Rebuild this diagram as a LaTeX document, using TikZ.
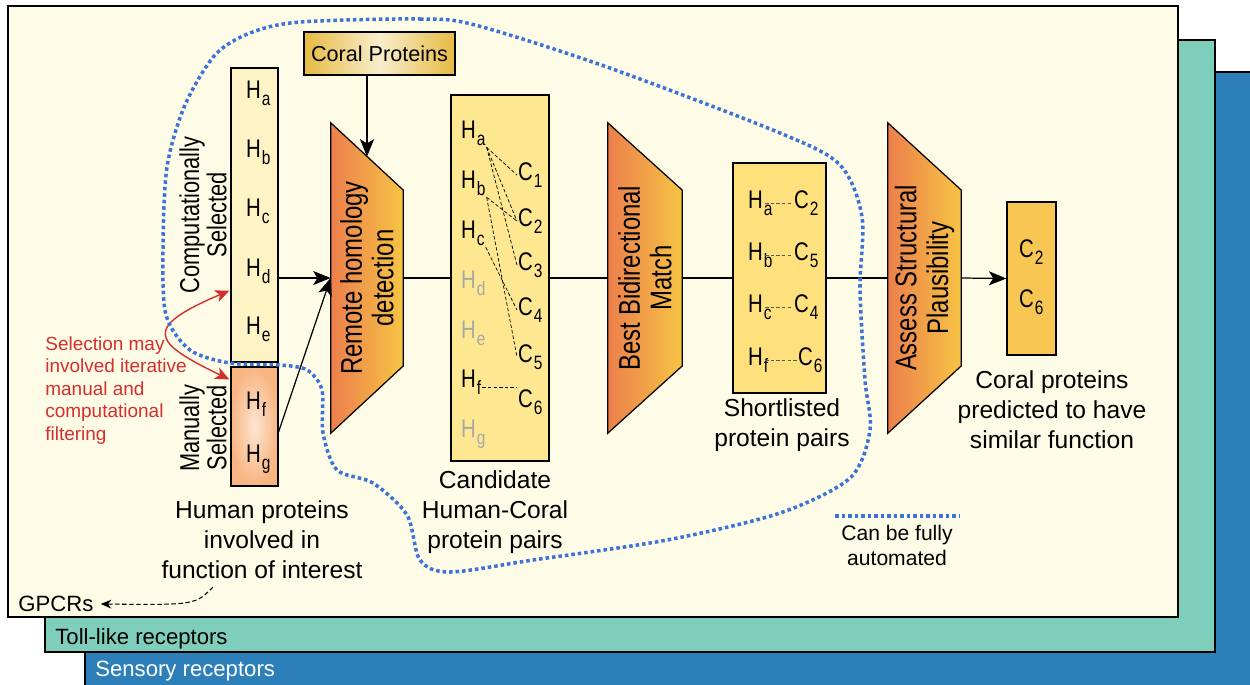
\documentclass[tikz,border=0pt]{standalone}
\usepackage{fontspec}
\setmainfont{Liberation Sans}
\newfontfamily\narrowfont{Liberation Sans}[FakeStretch=0.8]
\usetikzlibrary{arrows.meta,calc}

\definecolor{panelbg}{HTML}{FEFBE6}
\definecolor{tollbg}{HTML}{7FCDBB}
\definecolor{sensbg}{HTML}{2C7FB8}
\definecolor{compbg}{HTML}{FEF3C4}
\definecolor{manin}{HTML}{FDE6D2}
\definecolor{manout}{HTML}{F8B583}
\definecolor{candbg}{HTML}{FEE791}
\definecolor{shortbg}{HTML}{FEE07C}
\definecolor{finbg}{HTML}{F7C653}
\definecolor{trapl}{HTML}{EC7F4C}
\definecolor{trapr}{HTML}{F7C444}
\definecolor{coralside}{HTML}{E6BA42}
\definecolor{coralmid}{HTML}{F8EDCC}
\definecolor{selred}{HTML}{D2302F}
\definecolor{autoblue}{HTML}{3B73D9}
\definecolor{fadegray}{HTML}{A8A8A8}

\newcommand{\hsub}[1]{H\kern0.5pt\raisebox{-4.5pt}{\fontsize{11}{11}\selectfont #1}}
\newcommand{\hsubr}[1]{H\kern0.5pt\rlap{\raisebox{-4.5pt}{\fontsize{11}{11}\selectfont #1}}}
\newcommand{\csub}[1]{C\kern0.5pt\raisebox{-4.5pt}{\fontsize{11}{11}\selectfont #1}}
\newcommand{\trapshape}[1]{%
  \path[draw, line width=0.7pt, left color=trapl, right color=trapr]
    (#1.north west) -- ([yshift=-1.35cm]#1.north east)
    -- ([yshift=1.35cm]#1.south east) -- (#1.south west) -- cycle;}

\begin{document}
\begin{tikzpicture}[x=0.02cm, y=-0.02cm,
  box/.style={draw, line width=0.7pt, inner sep=0pt},
  hlab/.style={inner sep=0.5pt, anchor=base west, font=\narrowfont\fontsize{14.5}{16}\selectfont},
  fadelab/.style={hlab, text=fadegray},
  caption/.style={align=center, font=\fontsize{14}{17}\selectfont},
  rotlab/.style={rotate=90, align=center, font=\narrowfont\fontsize{15.5}{14}\selectfont},
  traptext/.style={rotate=90, align=center, font=\narrowfont\fontsize{17}{18}\selectfont},
  trapnode/.style={inner sep=0pt, minimum height=6.2cm},
  flow/.style={line width=0.7pt},
  arr/.style={flow, -{Stealth[length=10pt,width=8pt,inset=2.5pt]}},
  pairline/.style={line width=0.4pt, dash pattern=on 2pt off 1.2pt},
  fullauto/.style={autoblue, line width=2pt, dash pattern=on 2pt off 1.7pt},
  panellab/.style={anchor=west, inner sep=0pt, font=\fontsize{12.6}{14}\selectfont}]

\useasboundingbox (0,0) rectangle (1250,684);

% stacked receptor panels
\draw[fill=sensbg, line width=0.6pt] (85,72) rectangle (1262,700);
\draw[fill=tollbg, line width=0.6pt] (45,40) rectangle (1215,652);
\draw[fill=panelbg, line width=0.8pt] (8,6) rectangle (1178,617);
\node[panellab, text=white] (sens) at (95,671) {Sensory receptors};
\node[panellab] (toll) at (55,639) {Toll-like receptors};
\node[panellab] (gpcr) at (18,604) {GPCRs};

% human proteins
\node[box, fill=compbg, minimum width=0.94cm, minimum height=5.88cm] (comp) at (254.5,215) {};
\node[box, inner color=manin, outer color=manout, minimum width=0.94cm, minimum height=2.38cm] (man) at (254.5,426.5) {};
\foreach \s/\y in {a/98,b/157,c/216,d/276,e/334,f/409,g/462}
  \node[hlab] (h\s) at (245,\y) {\hsub{\s}};
\node[rotlab] (compsel) at (203,215) {Computationally\\Selected};
\node[rotlab] (mansel) at (203,428) {Manually\\Selected};
\node[caption] (human) at (262,540) {Human proteins\\involved in\\function of interest};

% selection note
\node[anchor=west, align=left, inner sep=0pt, text=selred, font=\fontsize{10.8}{12.8}\selectfont] (selnote) at (45,390.5) {Selection may\\involved iterative\\manual and\\computational\\filtering};
\coordinate (selc) at ($(comp.south west)+(-1,-72)$);
\coordinate (selm) at ($(man.north west)+(-1,13)$);
\draw[selred, line width=0.8pt, {Stealth[length=8pt,width=7pt,inset=2pt]}-{Stealth[length=8pt,width=7pt,inset=2pt]}] (selc) .. controls (142,328) and (152,342) .. (selm);

% coral proteins
\node[box, left color=coralside, right color=coralside, middle color=coralmid, minimum width=3.02cm, minimum height=0.86cm, font=\fontsize{12.3}{14}\selectfont] (coral) at (379.5,53.5) {Coral Proteins};

% remote homology detection
\node[trapnode, minimum width=1.44cm] (rhd) at (367,278) {};
\trapshape{rhd}
\node[traptext] (rhdlab) at (rhd) {Remote homology\\detection};
\coordinate (rhdtop) at ($(rhd.north)+(0,34)$);
\draw[arr] (coral.south -| rhdtop) -- (rhdtop);
\draw[arr] (comp.east |- rhd.west) -- (rhd.west);
\draw[arr] ([yshift=-3pt]man.east) -- (rhd.west);

% candidate pairs
\node[box, fill=candbg, minimum width=1.96cm, minimum height=7.32cm] (cand) at (500,278) {};
\draw[flow] (rhd.east) -- (cand.west);
\foreach \s/\y in {a/138,b/188,c/238,f/387}
  \node[hlab] (k\s) at (460,\y) {\hsub{\s}};
\foreach \s/\y in {d/288,e/338,g/437}
  \node[fadelab] (k\s) at (460,\y) {\hsub{\s}};
\foreach \n/\y in {1/180,2/226,3/270,4/315,5/362,6/407}
  \node[hlab] (c\n) at (517,\y) {\csub{\n}};
\foreach \a/\b in {a/1,a/2,a/3,b/2,b/5,c/4}
  \draw[pairline] (k\a.south east) -- (c\b.west);
\draw[pairline] ([yshift=-3pt]kf.east) -- ([yshift=-3pt]kf.east -| c6.west);
\node[caption] (candcap) at (495,512) {Candidate\\Human-Coral\\protein pairs};

% best bidirectional match
\node[trapnode, minimum width=1.48cm] (bbm) at (645,278) {};
\trapshape{bbm}
\node[traptext] (bbmlab) at (bbm) {Best Bidirectional\\Match};
\draw[flow] (cand.east) -- (bbm.west);

% shortlisted pairs
\node[box, fill=shortbg, minimum width=1.86cm, minimum height=4.6cm] (short) at (779.5,278) {};
\draw[flow] (bbm.east) -- (short.west);
\foreach \s/\c/\y/\x in {a/2/208/793,b/5/260/793,c/4/312/793,f/6/365/797} {
  \node[hlab] (s\s) at (747,\y) {\hsubr{\s}};
  \node[hlab] (t\c) at (\x,\y) {\csub{\c}};
  \draw[pairline, black!65] (s\s.mid east) -- (s\s.mid east -| t\c.west);
}
\node[caption] (shortcap) at (782,425) {Shortlisted\\protein pairs};

% assess structural plausibility
\node[trapnode, minimum width=1.46cm] (asp) at (924.5,278) {};
\trapshape{asp}
\node[traptext] (asplab) at (asp) {Assess Structural\\Plausibility};
\draw[flow] (short.east) -- (asp.west);

% predicted coral proteins
\node[box, fill=finbg, minimum width=0.98cm, minimum height=3.06cm] (fin) at (1031.5,278.5) {};
\draw[arr] (asp.east) -- (fin.west);
\node[hlab] (f2) at (1018,257) {\csub{2}};
\node[hlab] (f6) at (1018,307) {\csub{6}};
\node[caption] (fincap) at (1052,410) {Coral proteins\\predicted to have\\similar function};

% automated part
\draw[fullauto] plot[smooth cycle] coordinates {(300,22) (420,19) (475,25) (607,67) (780,133) (840,165) (862,217) (860,290) (865,380) (870,430) (850,478) (780,513) (667,540) (533,560) (450,572) (420,560) (407,515) (373,483) (337,470) (323,433) (322,390) (307,370) (280,365) (230,363) (190,350) (166,315) (163,250) (167,167) (185,105) (215,55) (250,33)};
\coordinate (auto1) at (835,516);
\coordinate (auto2) at (960,516);
\draw[fullauto] (auto1) -- (auto2);
\node[align=center, font=\fontsize{12}{14.2}\selectfont] (autolab) at (897,545) {Can be fully\\automated};

% gpcr pointer
\draw[line width=0.6pt, dash pattern=on 2.5pt off 1.5pt, -{Stealth[length=6pt,width=5pt]}] ($(human.south)+(-49,2)$) .. controls (195,605) .. ([xshift=4pt]gpcr.east);

\end{tikzpicture}
\end{document}
